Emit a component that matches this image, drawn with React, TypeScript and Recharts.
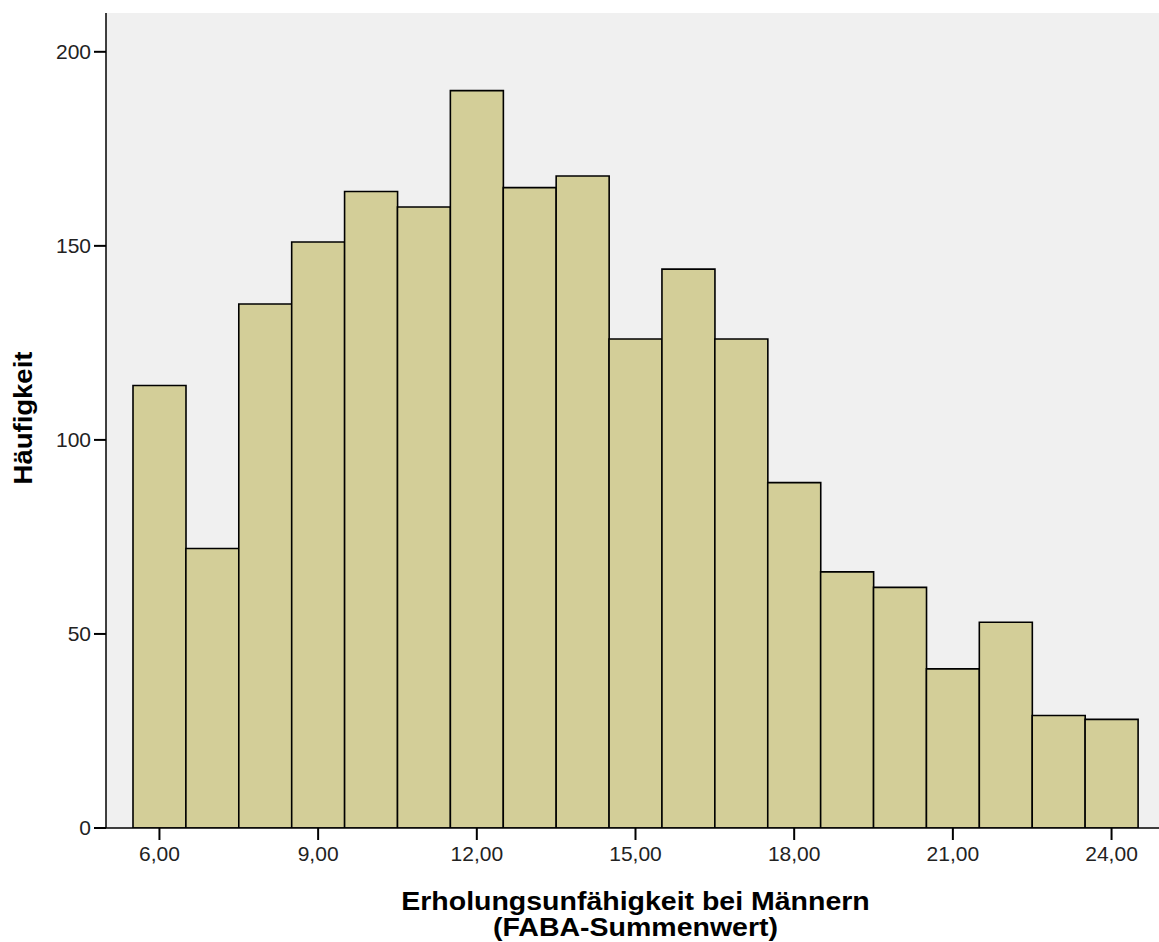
import React from "react";
import { BarChart, Bar, XAxis, YAxis, CartesianGrid } from "recharts";

// Summenwerte (Klassenmitten) und Häufigkeiten
const scores = [6, 7, 8, 9, 10, 11, 12, 13, 14, 15, 16, 17, 18, 19, 20, 21, 22, 23, 24];
const counts = [114, 72, 135, 151, 164, 160, 190, 165, 168, 126, 144, 126, 89, 66, 62, 41, 53, 29, 28];

const yTicks = [0, 50, 100, 150, 200];

const xTitleLines = ["Erholungsunfähigkeit bei Männern", "(FABA-Summenwert)"];
const yTitle = "Häufigkeit";

const data = scores.map((s, i) => ({ score: s, count: counts[i] }));

const FONT = "'Liberation Sans', Arial, sans-serif";
const fmt = (v: number) => Number(v).toFixed(2).replace(".", ",");

const XTitle = (props: any) => {
  const vb = props.viewBox || {};
  const cx = vb.x + vb.width / 2 + 1;
  return (
    <g>
      <text
        transform={`translate(${cx}, 910) scale(1.14, 1)`}
        textAnchor="middle"
        fontFamily={FONT}
        fontWeight="bold"
        fontSize={25}
        fill="#000"
      >
        {xTitleLines[0]}
      </text>
      <text
        transform={`translate(${cx}, 936) scale(1.14, 1)`}
        textAnchor="middle"
        fontFamily={FONT}
        fontWeight="bold"
        fontSize={25}
        fill="#000"
      >
        {xTitleLines[1]}
      </text>
    </g>
  );
};

const YTitle = () => (
  <text
    transform="translate(32, 418) rotate(-90) scale(1.1, 1)"
    textAnchor="middle"
    fontFamily={FONT}
    fontWeight="bold"
    fontSize={25}
    fill="#000"
  >
    {yTitle}
  </text>
);

export default function App() {
  return (
    <div style={{ position: "absolute", left: 0, top: 0, width: 1159, height: 942, overflow: "hidden", background: "#fff" }}>
      <BarChart
        width={1159}
        height={942}
        data={data}
        margin={{ top: 13, right: -4, bottom: 0, left: 0 }}
        barCategoryGap={0}
        barGap={0}
      >
        <CartesianGrid fill="#f0f0f0" horizontal={false} vertical={false} />
        <XAxis
          dataKey="score"
          type="category"
          padding={{ left: 27, right: 25 }}
          interval={2}
          tickFormatter={fmt}
          height={114}
          tickSize={12}
          tickMargin={6}
          axisLine={{ stroke: "#000", strokeWidth: 1.5 }}
          tickLine={{ stroke: "#000", strokeWidth: 2 }}
          tick={{ fill: "#222", fontSize: 21, fontFamily: FONT }}
          label={<XTitle />}
        />
        <XAxis
          xAxisId="top"
          dataKey="score"
          type="category"
          orientation="top"
          padding={{ left: 27, right: 25 }}
          height={0}
          tick={false}
          tickLine={false}
          axisLine={{ stroke: "#7a7a7a", strokeWidth: 3 }}
        />
        <YAxis
          type="number"
          domain={[0, 210]}
          ticks={yTicks}
          width={106}
          tickSize={12}
          tickMargin={3}
          axisLine={{ stroke: "#000", strokeWidth: 1.5 }}
          tickLine={{ stroke: "#000", strokeWidth: 2 }}
          tick={{ fill: "#222", fontSize: 21, fontFamily: FONT }}
          allowDataOverflow
          label={<YTitle />}
        />
        <Bar
          dataKey="count"
          fill="#d3ce98"
          stroke="#000"
          strokeWidth={1.6}
          isAnimationActive={false}
        />
      </BarChart>
    </div>
  );
}
